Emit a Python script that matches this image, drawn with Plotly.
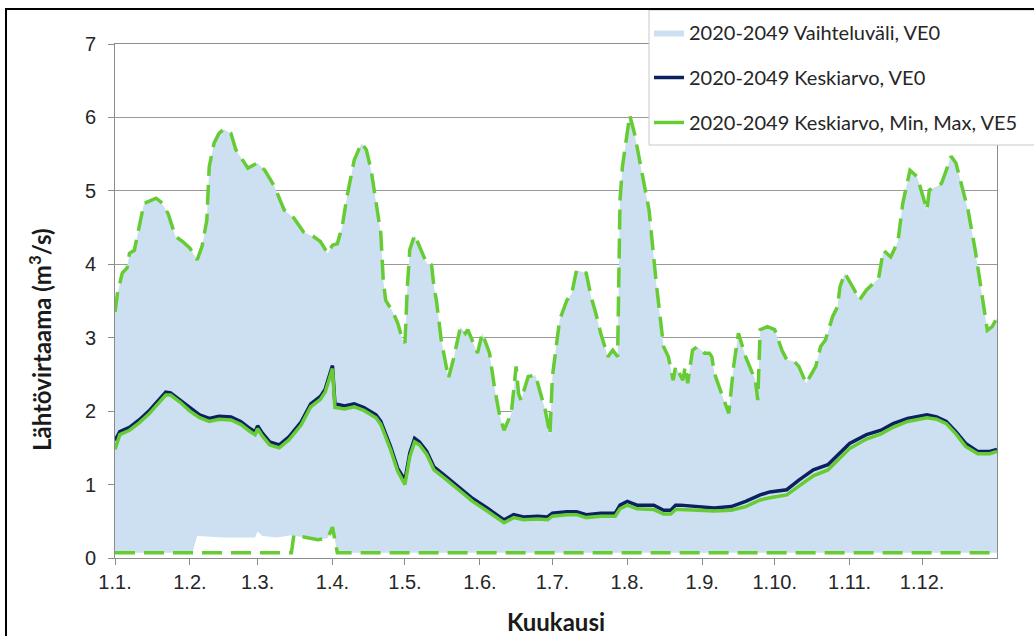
import plotly.graph_objects as go

# ---- axis ticks ----
month_ticks = [0, 31, 59, 90, 120, 151, 181, 212, 243, 273, 304, 334]
month_labels = ["1.1.", "1.2.", "1.3.", "1.4.", "1.5.", "1.6.", "1.7.",
                "1.8.", "1.9.", "1.10.", "1.11.", "1.12."]

# ---- upper envelope (max), day of year -> m3/s ----
max_days = [0, 1, 3, 5, 6, 8, 10, 12, 17, 19, 22, 25, 28, 31, 34, 36, 38, 39, 41, 43,
            45, 48, 50, 55, 59, 62, 66, 70, 74, 78, 82, 85, 88, 90, 92, 94, 96, 99, 102,
            104, 106, 108, 110, 111, 112, 115, 117, 119, 120, 121, 122, 124, 127, 129,
            131, 132, 133, 135, 138, 140, 143, 145, 146, 150, 152, 155, 157, 159, 161,
            164, 166, 167, 168, 171, 174, 176, 178, 180, 181, 184, 187, 189, 191, 195,
            197, 199, 201, 204, 206, 208, 209, 210, 213, 215, 217, 221, 224, 227, 229,
            231, 232, 235, 236, 237, 239, 241, 244, 246, 247, 248, 251, 254, 256, 258,
            261, 264, 265, 266, 267, 270, 273, 276, 278, 281, 283, 286, 289, 290, 292,
            294, 297, 299, 300, 302, 306, 308, 311, 316, 318, 321, 324, 326, 329, 332,
            336, 337, 340, 342, 344, 346, 348, 353, 356, 358, 361, 363, 365]
max_vals = [3.35, 3.60, 3.88, 3.95, 4.15, 4.19, 4.51, 4.83, 4.90, 4.85, 4.69, 4.38, 4.31,
            4.22, 4.06, 4.24, 4.60, 5.33, 5.65, 5.78, 5.84, 5.78, 5.56, 5.31, 5.38, 5.28,
            5.06, 4.74, 4.63, 4.44, 4.38, 4.31, 4.15, 4.26, 4.28, 4.51, 4.92, 5.42, 5.65,
            5.56, 5.28, 4.88, 4.42, 3.79, 3.51, 3.35, 3.20, 2.97, 2.93, 3.70, 4.20, 4.40,
            4.15, 4.01, 3.99, 3.69, 3.51, 2.97, 2.45, 2.70, 3.15, 3.06, 3.11, 2.79, 3.06,
            2.79, 2.33, 1.97, 1.74, 1.97, 2.61, 2.24, 2.15, 2.47, 2.49, 2.24, 2.02, 1.68,
            2.47, 3.24, 3.51, 3.60, 3.92, 3.88, 3.56, 3.33, 3.06, 2.74, 2.83, 2.74, 4.88,
            5.33, 6.03, 5.78, 5.42, 4.74, 3.74, 2.88, 2.74, 2.42, 2.61, 2.42, 2.61, 2.38,
            2.83, 2.88, 2.79, 2.79, 2.74, 2.52, 2.24, 1.97, 2.61, 3.06, 2.74, 2.52, 2.42,
            2.15, 3.11, 3.15, 3.11, 2.83, 2.70, 2.68, 2.61, 2.38, 2.56, 2.61, 2.88, 2.97,
            3.29, 3.42, 3.69, 3.88, 3.65, 3.51, 3.65, 3.81, 4.19, 4.10, 4.31, 4.83, 5.28,
            5.19, 4.74, 5.01, 5.06, 5.10, 5.28, 5.47, 5.38, 4.74, 4.19, 3.74, 3.10, 3.15,
            3.27]

# ---- lower envelope of the VE0 range (fill bottom) ----
fillmin_days = [0, 32, 34, 45, 58, 59, 61, 67, 73, 84, 88, 90, 91, 92, 200, 365]
fillmin_vals = [0.07, 0.07, 0.30, 0.28, 0.28, 0.36, 0.30, 0.28, 0.31, 0.25, 0.27, 0.42,
                0.25, 0.07, 0.07, 0.07]

# ---- VE5 minimum (dashed) ----
min5_days = [0, 40, 73, 74, 84, 88, 90, 91, 92, 200, 365]
min5_vals = [0.07, 0.07, 0.07, 0.31, 0.25, 0.27, 0.42, 0.25, 0.07, 0.07, 0.07]

# ---- mean values ----
mean_days = [0, 2, 6, 10, 14, 19, 21, 23, 27, 31, 35, 39, 43, 48, 52, 56, 58, 59, 61, 64,
             68, 72, 77, 81, 85, 87, 89, 90, 91, 95, 99, 103, 108, 110, 114, 117, 120,
             122, 124, 126, 129, 132, 137, 143, 148, 154, 159, 161, 165, 169, 175, 179,
             181, 187, 191, 195, 201, 207, 209, 212, 216, 223, 227, 230, 232, 234, 248,
             255, 261, 267, 271, 278, 283, 289, 295, 299, 304, 311, 317, 322, 328, 336,
             340, 344, 348, 352, 357, 362, 365]
mean_ve0 = [1.60, 1.72, 1.78, 1.88, 2.00, 2.18, 2.26, 2.25, 2.15, 2.04, 1.95, 1.90, 1.93,
            1.92, 1.86, 1.76, 1.72, 1.80, 1.70, 1.58, 1.54, 1.65, 1.85, 2.10, 2.20, 2.30,
            2.52, 2.62, 2.10, 2.07, 2.10, 2.05, 1.95, 1.86, 1.52, 1.22, 1.06, 1.43, 1.63,
            1.58, 1.45, 1.24, 1.11, 0.95, 0.81, 0.68, 0.56, 0.52, 0.59, 0.56, 0.57, 0.56,
            0.61, 0.63, 0.63, 0.59, 0.61, 0.61, 0.72, 0.77, 0.72, 0.72, 0.65, 0.65, 0.72,
            0.72, 0.68, 0.70, 0.77, 0.86, 0.90, 0.93, 1.06, 1.20, 1.27, 1.40, 1.56, 1.68,
            1.74, 1.83, 1.90, 1.95, 1.92, 1.86, 1.72, 1.56, 1.45, 1.45, 1.48]
mean_ve5 = [1.48, 1.68, 1.74, 1.84, 1.96, 2.14, 2.22, 2.22, 2.12, 2.00, 1.91, 1.86, 1.89,
            1.88, 1.82, 1.72, 1.68, 1.76, 1.66, 1.54, 1.50, 1.61, 1.81, 2.06, 2.16, 2.26,
            2.48, 2.58, 2.05, 2.03, 2.06, 2.01, 1.91, 1.82, 1.48, 1.18, 1.00, 1.38, 1.58,
            1.54, 1.41, 1.20, 1.07, 0.91, 0.77, 0.64, 0.52, 0.48, 0.55, 0.52, 0.53, 0.52,
            0.57, 0.59, 0.59, 0.55, 0.57, 0.57, 0.67, 0.72, 0.67, 0.66, 0.60, 0.60, 0.66,
            0.66, 0.64, 0.65, 0.70, 0.79, 0.82, 0.86, 0.98, 1.12, 1.20, 1.33, 1.49, 1.62,
            1.69, 1.78, 1.86, 1.91, 1.89, 1.83, 1.69, 1.52, 1.42, 1.42, 1.45]

FILL = "#cde0f2"
NAVY = "#0b2161"
GREEN = "#66cc33"
DASH = "20px,9px"

fig = go.Figure()
fig.add_trace(go.Scatter(x=fillmin_days, y=fillmin_vals, mode="lines",
                         line=dict(width=0, color="rgba(0,0,0,0)"),
                         showlegend=False, hoverinfo="skip"))
fig.add_trace(go.Scatter(x=max_days, y=max_vals, mode="lines",
                         line=dict(width=0, color=FILL), fill="tonexty", fillcolor=FILL,
                         name="2020-2049 Vaihteluväli, VE0", legendgroup="a"))
fig.add_trace(go.Scatter(x=mean_days, y=mean_ve0, mode="lines",
                         line=dict(color=NAVY, width=3.5),
                         name="2020-2049 Keskiarvo, VE0", legendgroup="b"))
fig.add_trace(go.Scatter(x=mean_days, y=mean_ve5, mode="lines",
                         line=dict(color=GREEN, width=3.5),
                         name="2020-2049 Keskiarvo, Min, Max, VE5", legendgroup="c"))
fig.add_trace(go.Scatter(x=max_days, y=max_vals, mode="lines",
                         line=dict(color=GREEN, width=3.5, dash=DASH),
                         showlegend=False, legendgroup="c"))
fig.add_trace(go.Scatter(x=min5_days, y=min5_vals, mode="lines",
                         line=dict(color=GREEN, width=3.5, dash=DASH),
                         showlegend=False, legendgroup="c"))

# reference-pixel geometry of the plot area
L, T = 115, 44
PW, PH = 882, 514
W, H = 1034, 636

def px(x):
    return (x - L) / PW

def py(y):
    return (T + PH - y) / PH

fig.update_layout(
    width=W, height=H,
    margin=dict(l=L, r=W - L - PW, t=T, b=H - T - PH, autoexpand=False),
    plot_bgcolor="white", paper_bgcolor="white",
    font=dict(family="Liberation Sans, Arial", color="#262626"),
    legend=dict(x=px(649), y=py(13), xanchor="left", yanchor="top",
                bgcolor="rgba(0,0,0,0)", borderwidth=0,
                font=dict(family="Lato", size=20, color="#262626"),
                tracegroupgap=16, itemwidth=30),
    xaxis=dict(range=[0, 365], tickvals=month_ticks, ticktext=month_labels,
               showgrid=False, showline=True, linecolor="#8c8c8c", linewidth=1,
               mirror=True, ticks="outside", ticklen=6, tickcolor="#8c8c8c",
               tickfont=dict(size=20, family="Liberation Sans, Arial", color="#262626"),
               title=dict(text="<b>Kuukausi</b>", standoff=22,
                          font=dict(family="Lato", size=24, color="#1a1a1a")),
               zeroline=False),
    yaxis=dict(range=[0, 7], dtick=1, showgrid=True, gridcolor="#999999", gridwidth=1,
               showline=True, linecolor="#8c8c8c", linewidth=1, mirror=True,
               ticks="outside", ticklen=6, tickcolor="#8c8c8c", zeroline=False,
               ticklabelstandoff=8,
               tickfont=dict(size=20, family="Liberation Sans, Arial", color="#262626")),
    annotations=[dict(text="<b>Lähtövirtaama (m<sup>3</sup>/s)</b>", textangle=-90,
                      xref="paper", yref="paper", x=px(40), y=py(340),
                      xanchor="center", yanchor="middle", showarrow=False,
                      font=dict(family="Lato", size=24, color="#1a1a1a"))],
    shapes=[
        # legend box (runs past the right edge, as in the source image)
        dict(type="rect", xref="paper", yref="paper",
             x0=px(649), x1=px(1060), y0=py(145), y1=py(10),
             line=dict(color="#c8c8c8", width=1), fillcolor="white", layer="above"),
        # outer frame
        dict(type="rect", xref="paper", yref="paper",
             x0=px(6), x1=px(1060), y0=py(660), y1=py(9),
             line=dict(color="black", width=2), fillcolor="rgba(0,0,0,0)",
             layer="above"),
    ],
)

fig.write_html("out.html", config={"displayModeBar": False},
               post_script="document.body.style.margin='0px';")
